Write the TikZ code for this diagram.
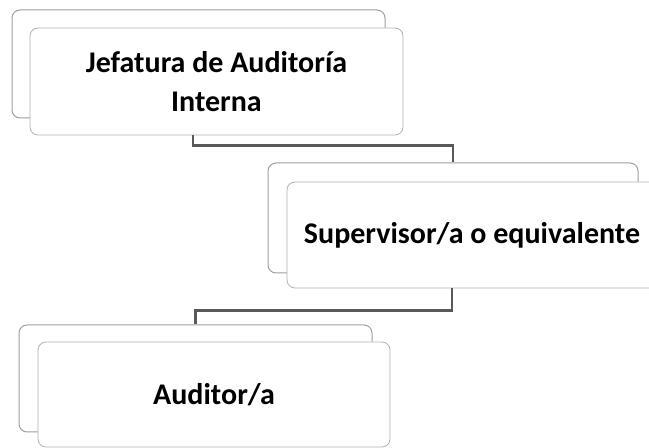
\documentclass[tikz,border=0pt]{standalone}
\usepackage{fontspec}
\setmainfont{Carlito}
\usepackage{tikz}
\newcommand{\cardfont}{\fontsize{15}{19.5}\selectfont\bfseries}
\tikzstyle{Back}=[rectangle, rounded corners=4, draw=gray!75, line width=0.5, fill=white, inner sep=0]
\tikzstyle{Front}=[rectangle, rounded corners=4, draw=gray!60, line width=0.4, fill=white, inner sep=0, align=center, font=\cardfont]
\tikzstyle{Link}=[draw=black!65, line width=1.2]

\begin{document}
\begin{tikzpicture}[x=0.5pt, y=-0.5pt]
    \useasboundingbox (0,0) rectangle (649,448);
    \path
    (198.5,64) node[Back, minimum width=186.5pt, minimum height=54pt] (jefB) {}
    (216.5,81.5) node[Front, minimum width=186.5pt, minimum height=53.5pt] (jefF) {Jefatura de Auditoría\\Interna};

    \path
    (453,218) node[Back, minimum width=185pt, minimum height=55pt] (supB) {}
    (472,235) node[Front, minimum width=185pt, minimum height=53pt] (supF) {Supervisor/a o equivalente};

    \path
    (195.5,378.5) node[Back, minimum width=176.5pt, minimum height=53.5pt] (audB) {}
    (214,394.5) node[Front, minimum width=176pt, minimum height=52.5pt] (audF) {Auditor/a};

    \draw[Link] (jefF.south) ++(-23.5,0) -- ++(0,10) -| (supB.north);
    \draw[Link] (supF.south) ++(-20,0) -- ++(0,22) -| (audB.north);
\end{tikzpicture}
\end{document}
